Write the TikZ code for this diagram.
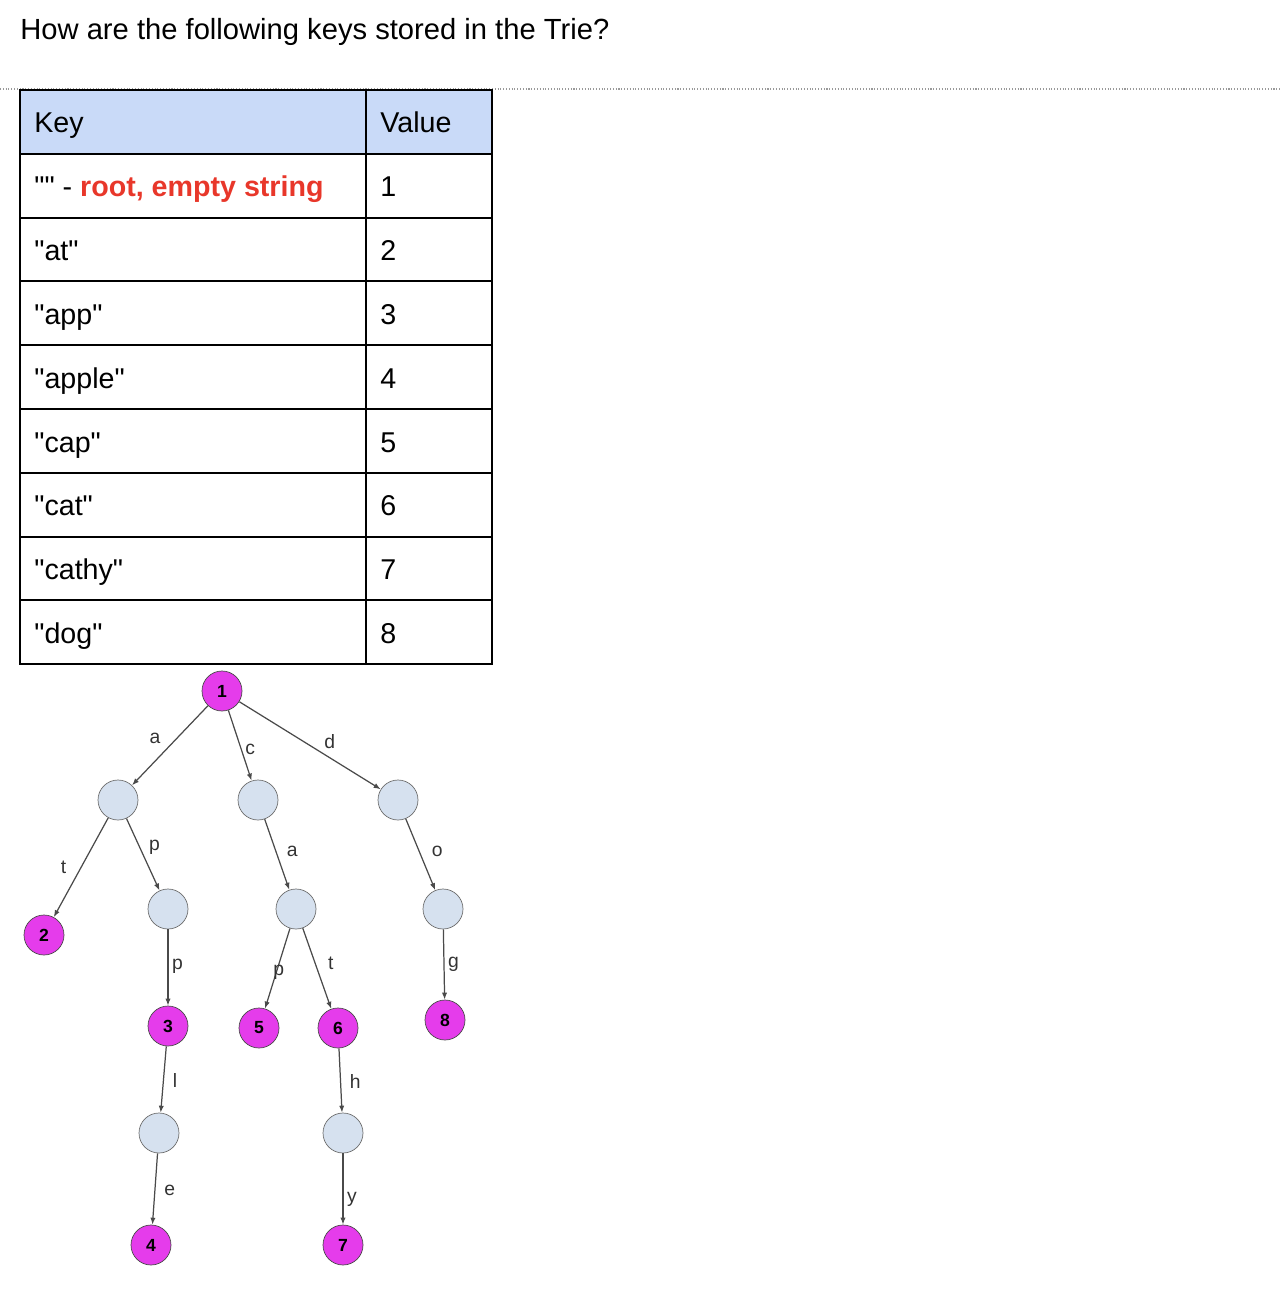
\documentclass[tikz,border=0pt]{standalone}
\usepackage{fontspec}
\setmainfont{Liberation Sans}[Ligatures=TeXOff]
\usetikzlibrary{arrows.meta}
\definecolor{hdrblue}{HTML}{C9DAF8}
\definecolor{keyred}{HTML}{E8372A}
\definecolor{valpink}{HTML}{E53CEB}
\definecolor{emptyblue}{HTML}{D6E1EF}
\definecolor{edgegray}{HTML}{4A4A4A}
\begin{document}
\begin{tikzpicture}[x=0.02cm,y=-0.02cm,
  val/.style={shape=circle,draw=edgegray,fill=valpink,minimum size=0.8cm,inner sep=0pt,font=\fontsize{10}{11}\selectfont\bfseries},
  emp/.style={shape=circle,draw=edgegray!80,fill=emptyblue,minimum size=0.8cm,inner sep=0pt},
  lbl/.style={font=\fontsize{11}{13}\selectfont,text=black!80,inner sep=2pt},
  cell/.style={anchor=base west,inner sep=0pt,font=\fontsize{16.3}{19}\selectfont}]
\useasboundingbox (0,0) rectangle (1280,1304);
% question
\node[cell,font=\fontsize{16.6}{19}\selectfont] (title) at (20,40) {How are the following keys stored in the Trie?};
\draw[densely dotted,black!40,line width=0.6pt] (0,89) -- (1280,89);
% table
\fill[hdrblue] (20,90) rectangle (492,154);
\draw[line width=1.1pt] (20,90) rectangle (492,664);
\draw[line width=1.1pt] (366,90) -- (366,664);
\foreach \i in {1,...,8}
  \draw[line width=1.1pt] (20,{90+63.8*\i}) -- (492,{90+63.8*\i});
\foreach \k/\v [count=\i from 0] in {Key/Value,{"" - \textcolor{keyred}{\bfseries root, empty string}}/1,
    "at"/2,"app"/3,"apple"/4,"cap"/5,"cat"/6,"cathy"/7,"dog"/8}{
  \node[cell] (key\i) at (34,{133+63.8*\i}) {\k};
  \node[cell] (val\i) at (380,{133+63.8*\i}) {\v};
}
% trie
\node[val] (n1) at (222,691) {1};
\node[emp] (na) at (118,800) {};
\node[emp] (nc) at (258,800) {};
\node[emp] (nd) at (398,800) {};
\node[val] (n2) at (44,935) {2};
\node[emp] (nap) at (168,909) {};
\node[emp] (nca) at (296,909) {};
\node[emp] (ndo) at (443,909) {};
\node[val] (n3) at (168,1026) {3};
\node[val] (n5) at (259,1028) {5};
\node[val] (n6) at (338,1028) {6};
\node[val] (n8) at (445,1020) {8};
\node[emp] (nappl) at (159,1133) {};
\node[emp] (ncath) at (343,1133) {};
\node[val] (n4) at (151,1245) {4};
\node[val] (n7) at (343,1245) {7};
\path[-{Latex[length=4pt,width=3pt]},draw,edgegray,line width=0.7pt]
  (n1) edge node[lbl,above left=1pt,pos=0.55] {a} (na)
  (n1) edge node[lbl,right,pos=0.55] {c} (nc)
  (n1) edge node[lbl,above=3pt,pos=0.64] {d} (nd)
  (na) edge node[lbl,left=6pt,pos=0.5] {t} (n2)
  (na) edge node[lbl,right=3pt,pos=0.4] {p} (nap)
  (nc) edge node[lbl,right=4pt,pos=0.45] {a} (nca)
  (nd) edge node[lbl,right=5pt,pos=0.45] {o} (ndo)
  (nap) edge node[lbl,right,pos=0.48] {p} (n3)
  (nca) edge node[lbl,right=-4pt,pos=0.55] {p} (n5)
  (nca) edge node[lbl,right=5pt,pos=0.44] {t} (n6)
  (ndo) edge node[lbl,right=0pt,pos=0.5] {g} (n8)
  (n3) edge node[lbl,right=3pt,pos=0.52] {l} (nappl)
  (n6) edge node[lbl,right=3pt,pos=0.52] {h} (ncath)
  (nappl) edge node[lbl,right=3pt,pos=0.52] {e} (n4)
  (ncath) edge node[lbl,right,pos=0.64] {y} (n7);
\end{tikzpicture}
\end{document}
